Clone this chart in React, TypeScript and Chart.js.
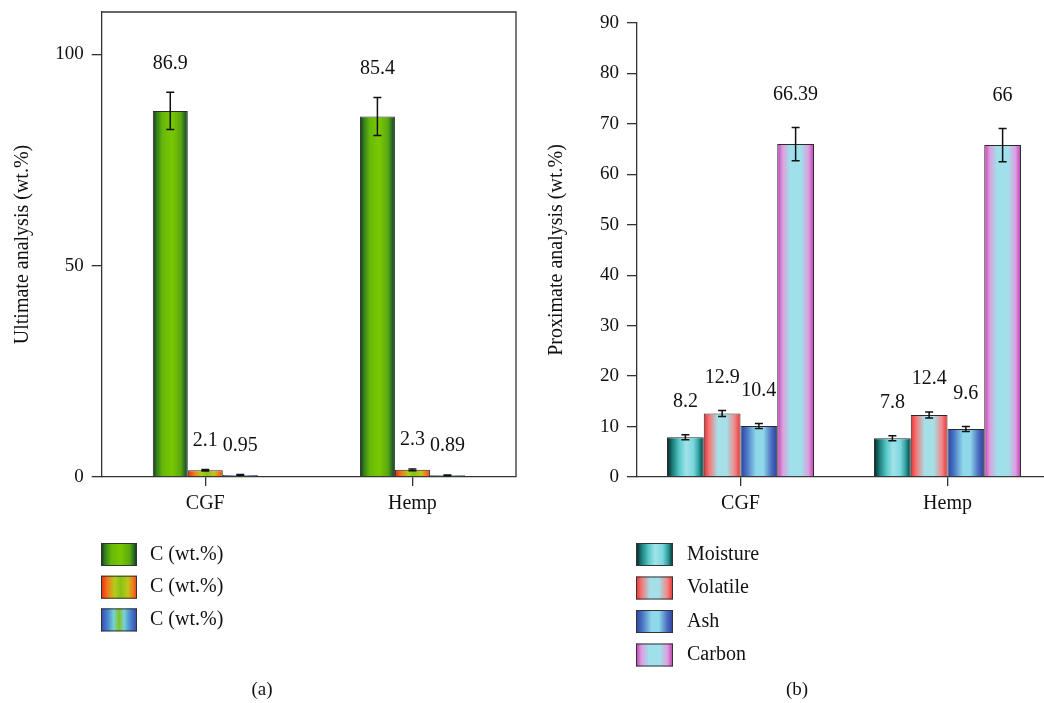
import React, { useEffect, useRef } from 'react';
import { Chart, registerables } from 'chart.js';

Chart.register(...registerables);

const FONT = "'Liberation Serif', 'DejaVu Serif', serif";

// ---------- data ----------
const categories = ['CGF', 'Hemp'];

// (a) Ultimate analysis
const ultimateNames = ['C (wt.%)', 'C (wt.%)', 'C (wt.%)'];
const ultimateSeries1 = [86.6, 85.3];
const ultimateSeries2 = [1.6, 1.7];
const ultimateSeries3 = [0.5, 0.4];
const ultimateErr1 = [4.4, 4.5];
const ultimateErr2 = [0.2, 0.2];
const ultimateErr3 = [0.1, 0.1];
const ultimateLabels1 = ['86.9', '85.4'];
const ultimateLabels2 = ['2.1', '2.3'];
const ultimateLabels3 = ['0.95', '0.89'];
const ultimateTicks = [0, 50, 100];

// (b) Proximate analysis
const proximateNames = ['Moisture', 'Volatile', 'Ash', 'Carbon'];
const moisture = [7.9, 7.7];
const volatile = [12.6, 12.3];
const ash = [10.1, 9.5];
const carbon = [66.0, 65.8];
const moistureErr = [0.5, 0.5];
const volatileErr = [0.6, 0.6];
const ashErr = [0.5, 0.5];
const carbonErr = [3.3, 3.3];
const moistureLabels = ['8.2', '7.8'];
const volatileLabels = ['12.9', '12.4'];
const ashLabels = ['10.4', '9.6'];
const carbonLabels = ['66.39', '66'];
const proximateTicks = [0, 10, 20, 30, 40, 50, 60, 70, 80, 90];

// ---------- styles ----------
type Stops = [number, string][];
const greenStops: Stops = [[0, '#172a17'], [0.1, '#2f7a1e'], [0.28, '#66b80c'], [0.55, '#7ac800'], [0.8, '#5aa812'], [0.92, '#276a22'], [1, '#142814']];
const orangeStops: Stops = [[0, '#e82a10'], [0.18, '#f07a1c'], [0.38, '#b4cc1c'], [0.55, '#86c216'], [0.75, '#c4c41c'], [0.9, '#f0781a'], [1, '#e8400e']];
const blueGreenStops: Stops = [[0, '#3446ae'], [0.2, '#4c8cd0'], [0.36, '#78d4d4'], [0.5, '#84c21e'], [0.64, '#78d4d4'], [0.8, '#4c8cd0'], [1, '#3446ae']];
const moistureStops: Stops = [[0, '#0a1c1c'], [0.14, '#177a78'], [0.35, '#5ccccc'], [0.52, '#a2e2ea'], [0.72, '#7cd6de'], [0.87, '#2a9c9a'], [1, '#0a2a2a']];
const volatileStops: Stops = [[0, '#ee3030'], [0.16, '#f07c7c'], [0.38, '#a6dfe8'], [0.62, '#a6dfe8'], [0.84, '#f08a8a'], [1, '#ee3030']];
const ashStops: Stops = [[0, '#2e3e9e'], [0.18, '#4a78c6'], [0.42, '#8ed8ea'], [0.62, '#8ed8ea'], [0.84, '#4a6ec0'], [1, '#2e3e9e']];
const carbonStops: Stops = [[0, '#bc3cb0'], [0.15, '#de9ede'], [0.35, '#a0e0ea'], [0.65, '#a0e0ea'], [0.85, '#de9ede'], [1, '#bc3cb0']];

function makeGradient(ctx: CanvasRenderingContext2D, x0: number, x1: number, stops: Stops) {
  const g = ctx.createLinearGradient(x0, 0, x1, 0);
  stops.forEach(([o, c]) => g.addColorStop(o, c));
  return g;
}

function barFill(stops: Stops, catPct: number) {
  const fallback = stops[Math.floor(stops.length / 2)][1];
  return (c: any) => {
    const chart = c.chart;
    const xs = chart.scales && chart.scales.x;
    if (!xs || c.dataIndex === undefined || c.datasetIndex === undefined) return fallback;
    const n = chart.data.datasets.length;
    const catW = xs.width / chart.data.labels.length;
    const groupW = catW * catPct;
    const barW = groupW / n;
    const center = xs.getPixelForValue(c.dataIndex);
    const left = center - groupW / 2 + c.datasetIndex * barW;
    if (!Number.isFinite(left) || !Number.isFinite(barW) || barW <= 0) return fallback;
    return makeGradient(chart.ctx, left, left + barW, stops);
  };
}

// ---------- plugins ----------
const errorBarsPlugin = {
  id: 'errorBars',
  afterDatasetsDraw(chart: any) {
    const ctx = chart.ctx;
    const ys = chart.scales.y;
    ctx.save();
    ctx.strokeStyle = '#111';
    ctx.lineWidth = 1.5;
    chart.data.datasets.forEach((ds: any, i: number) => {
      const meta = chart.getDatasetMeta(i);
      meta.data.forEach((bar: any, j: number) => {
        const v = ds.data[j];
        const e = ds.errors[j];
        const x = bar.x;
        const yT = ys.getPixelForValue(v + e);
        const yB = ys.getPixelForValue(v - e);
        ctx.beginPath();
        ctx.moveTo(x, yT);
        ctx.lineTo(x, yB);
        ctx.moveTo(x - 4, yT);
        ctx.lineTo(x + 4, yT);
        ctx.moveTo(x - 4, yB);
        ctx.lineTo(x + 4, yB);
        ctx.stroke();
      });
    });
    ctx.restore();
  },
};

const valueLabelsPlugin = {
  id: 'valueLabels',
  afterDatasetsDraw(chart: any, _args: any, opts: any) {
    const ctx = chart.ctx;
    const ys = chart.scales.y;
    ctx.save();
    ctx.fillStyle = '#111';
    ctx.font = `20px ${FONT}`;
    ctx.textAlign = 'center';
    ctx.textBaseline = 'middle';
    chart.data.datasets.forEach((ds: any, i: number) => {
      const meta = chart.getDatasetMeta(i);
      meta.data.forEach((bar: any, j: number) => {
        const top = ys.getPixelForValue(ds.data[j] + ds.errors[j]);
        ctx.fillText(ds.valueLabels[j], bar.x, top - opts.offset);
      });
    });
    ctx.restore();
  },
};

const framePlugin = {
  id: 'frame',
  afterDraw(chart: any, _args: any, opts: any) {
    if (!opts.box) return;
    const { left, right, top, bottom } = chart.chartArea;
    const ctx = chart.ctx;
    ctx.save();
    ctx.strokeStyle = '#333';
    ctx.lineWidth = 1.3;
    ctx.beginPath();
    ctx.moveTo(left, top);
    ctx.lineTo(right, top);
    ctx.lineTo(right, bottom);
    ctx.stroke();
    ctx.restore();
  },
};

const customLegendPlugin = {
  id: 'customLegend',
  afterDraw(chart: any, _args: any, opts: any) {
    const ctx = chart.ctx;
    ctx.save();
    chart.data.datasets.forEach((ds: any, i: number) => {
      const y = opts.y + i * opts.rowH;
      ctx.fillStyle = makeGradient(ctx, opts.x, opts.x + opts.boxW, ds.gradientStops);
      ctx.fillRect(opts.x, y, opts.boxW, opts.boxH);
      ctx.strokeStyle = '#333';
      ctx.lineWidth = 1;
      ctx.strokeRect(opts.x + 0.5, y + 0.5, opts.boxW - 1, opts.boxH - 1);
      ctx.fillStyle = '#111';
      ctx.font = `20px ${FONT}`;
      ctx.textAlign = 'left';
      ctx.textBaseline = 'middle';
      ctx.fillText(ds.label, opts.textX, y + opts.boxH / 2);
    });
    ctx.restore();
  },
};

const panelLabelPlugin = {
  id: 'panelLabel',
  afterDraw(chart: any, _args: any, opts: any) {
    const ctx = chart.ctx;
    ctx.save();
    ctx.fillStyle = '#111';
    ctx.font = `19px ${FONT}`;
    ctx.textAlign = 'center';
    ctx.textBaseline = 'middle';
    ctx.fillText(opts.text, opts.x, opts.y);
    ctx.restore();
  },
};

function buildConfig(p: {
  datasets: any[];
  catPct: number;
  max: number;
  ticks: number[];
  yWidth: number;
  padTop: number;
  padRight: number;
  title: string;
  titlePad: number;
  box: boolean;
  labelOffset: number;
  legend: any;
  panel: any;
}): any {
  return {
    type: 'bar',
    data: {
      labels: categories,
      datasets: p.datasets.map((d) => ({
        label: d.label,
        data: d.data,
        errors: d.errors,
        valueLabels: d.valueLabels,
        gradientStops: d.stops,
        backgroundColor: barFill(d.stops, p.catPct),
        borderColor: '#2a2a2a',
        borderWidth: 1,
        borderSkipped: 'bottom',
        categoryPercentage: p.catPct,
        barPercentage: 1,
      })),
    },
    options: {
      responsive: false,
      animation: false,
      events: [],
      layout: { padding: { top: p.padTop, right: p.padRight, left: 0, bottom: 0 } },
      plugins: {
        legend: { display: false },
        tooltip: { enabled: false },
        valueLabels: { offset: p.labelOffset },
        frame: { box: p.box },
        customLegend: p.legend,
        panelLabel: p.panel,
      },
      scales: {
        x: {
          type: 'category',
          offset: true,
          grid: { display: true, drawOnChartArea: false, drawTicks: true, tickLength: 9, offset: false, color: '#333', lineWidth: 1.3 },
          border: { display: true, color: '#333', width: 1.3 },
          ticks: { color: '#111', font: { family: FONT, size: 20 }, padding: 6 },
          afterFit: (s: any) => {
            s.height = 226;
            s.paddingLeft = 0;
            s.paddingRight = 0;
          },
        },
        y: {
          min: 0,
          max: p.max,
          afterBuildTicks: (s: any) => {
            s.ticks = p.ticks.map((v) => ({ value: v }));
          },
          grid: { display: true, drawOnChartArea: false, drawTicks: true, tickLength: 10, color: '#333', lineWidth: 1.3 },
          border: { display: true, color: '#333', width: 1.3 },
          ticks: { color: '#111', font: { family: FONT, size: 19 }, padding: 8 },
          title: { display: true, text: p.title, color: '#111', font: { family: FONT, size: 20 }, padding: { top: p.titlePad, bottom: 0 } },
          afterFit: (s: any) => {
            s.width = p.yWidth;
            s.paddingTop = 0;
            s.paddingBottom = 0;
          },
        },
      },
    },
    plugins: [errorBarsPlugin, valueLabelsPlugin, framePlugin, customLegendPlugin, panelLabelPlugin],
  };
}

const leftConfig = () =>
  buildConfig({
    datasets: [
      { label: ultimateNames[0], data: ultimateSeries1, errors: ultimateErr1, valueLabels: ultimateLabels1, stops: greenStops },
      { label: ultimateNames[1], data: ultimateSeries2, errors: ultimateErr2, valueLabels: ultimateLabels2, stops: orangeStops },
      { label: ultimateNames[2], data: ultimateSeries3, errors: ultimateErr3, valueLabels: ultimateLabels3, stops: blueGreenStops },
    ],
    catPct: 0.507,
    max: 110,
    ticks: ultimateTicks,
    yWidth: 101.7,
    padTop: 12,
    padRight: 14,
    title: 'Ultimate analysis (wt.%)',
    titlePad: 11,
    box: true,
    labelOffset: 29,
    legend: { x: 101, y: 543, rowH: 32.7, boxW: 36, boxH: 23, textX: 150 },
    panel: { text: '(a)', x: 262, y: 690 },
  });

const rightConfig = () =>
  buildConfig({
    datasets: [
      { label: proximateNames[0], data: moisture, errors: moistureErr, valueLabels: moistureLabels, stops: moistureStops },
      { label: proximateNames[1], data: volatile, errors: volatileErr, valueLabels: volatileLabels, stops: volatileStops },
      { label: proximateNames[2], data: ash, errors: ashErr, valueLabels: ashLabels, stops: ashStops },
      { label: proximateNames[3], data: carbon, errors: carbonErr, valueLabels: carbonLabels, stops: carbonStops },
    ],
    catPct: 0.71,
    max: 90,
    ticks: proximateTicks,
    yWidth: 107,
    padTop: 23,
    padRight: 9,
    title: 'Proximate analysis (wt.%)',
    titlePad: 15,
    box: false,
    labelOffset: 33,
    legend: { x: 106, y: 543, rowH: 33.5, boxW: 37, boxH: 23, textX: 157 },
    panel: { text: '(b)', x: 267, y: 690 },
  });

function Panel({ left, width, makeConfig }: { left: number; width: number; makeConfig: () => any }) {
  const ref = useRef<HTMLCanvasElement>(null);
  useEffect(() => {
    if (!ref.current) return;
    const chart = new Chart(ref.current, makeConfig());
    return () => chart.destroy();
  }, []);
  return (
    <canvas
      ref={ref}
      width={width}
      height={703}
      style={{ position: 'absolute', left, top: 0, width, height: 703, display: 'block' }}
    />
  );
}

export default function App() {
  return (
    <div
      style={{
        position: 'absolute',
        left: 0,
        top: 0,
        width: 1044,
        height: 703,
        overflow: 'hidden',
        background: '#fff',
      }}
    >
      <Panel left={0} width={530} makeConfig={leftConfig} />
      <Panel left={530} width={530} makeConfig={rightConfig} />
    </div>
  );
}
